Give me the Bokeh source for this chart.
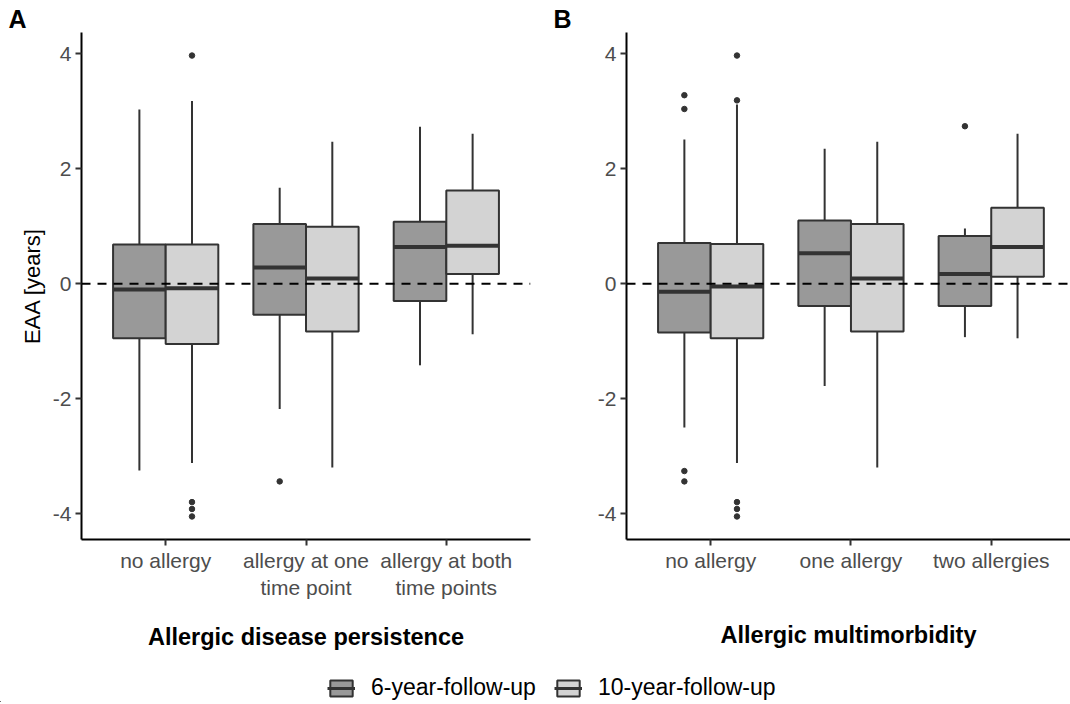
from bokeh.plotting import figure
from bokeh.models import (ColumnDataSource, FixedTicker, Range1d, Span,
                          Legend, LegendItem)
from bokeh.layouts import column, row
from bokeh.transform import dodge
from bokeh.embed import file_html
from bokeh.resources import INLINE

# ---------------- data ----------------
series = ["6-year-follow-up", "10-year-follow-up"]

cats_A = ["no allergy", "allergy at one\ntime point", "allergy at both\ntime points"]
A6_lower = [-3.25, -2.18, -1.42]
A6_q1 = [-0.95, -0.54, -0.30]
A6_median = [-0.10, 0.28, 0.64]
A6_q3 = [0.68, 1.04, 1.08]
A6_upper = [3.03, 1.67, 2.73]
A6_out_cat = [2]
A6_out_val = [-3.44]

A10_lower = [-3.12, -3.20, -0.88]
A10_q1 = [-1.05, -0.83, 0.17]
A10_median = [-0.08, 0.09, 0.66]
A10_q3 = [0.68, 0.99, 1.62]
A10_upper = [3.18, 2.47, 2.61]
A10_out_cat = [1, 1, 1, 1]
A10_out_val = [3.97, -3.80, -3.92, -4.05]

cats_B = ["no allergy", "one allergy", "two allergies"]
B6_lower = [-2.50, -1.78, -0.93]
B6_q1 = [-0.85, -0.39, -0.39]
B6_median = [-0.14, 0.53, 0.17]
B6_q3 = [0.71, 1.10, 0.83]
B6_upper = [2.51, 2.35, 0.96]
B6_out_cat = [1, 1, 1, 1, 3]
B6_out_val = [3.28, 3.04, -3.26, -3.44, 2.74]

B10_lower = [-3.12, -3.20, -0.95]
B10_q1 = [-0.95, -0.83, 0.12]
B10_median = [-0.05, 0.09, 0.64]
B10_q3 = [0.69, 1.04, 1.32]
B10_upper = [3.12, 2.47, 2.61]
B10_out_cat = [1, 1, 1, 1, 1]
B10_out_val = [3.97, 3.19, -3.80, -3.92, -4.05]

y_ticks = [-4, -2, 0, 2, 4]

# ---------------- style ----------------
FONT = "Liberation Sans"
FILLS = ["#999999", "#D3D3D3"]
EDGE = "#333333"
BOX_W = 0.375
OFFS = [-BOX_W / 2, BOX_W / 2]

box_sources = []


def make_panel(cats, stats, outs, xlabel, ylabel, tag, width, left, right,
               x_end, title_standoff):
    p = figure(width=width, height=660, output_backend="svg", toolbar_location=None,
               x_range=Range1d(0.4, x_end), y_range=Range1d(-4.451, 4.371),
               min_border_left=left, min_border_right=right,
               min_border_top=32, min_border_bottom=121)
    p.xgrid.visible = False
    p.ygrid.visible = False
    p.outline_line_color = None
    xs = list(range(1, len(cats) + 1))
    srcs = []
    for (lower, q1, med, q3, upper), (oc, ov), off, fill in zip(stats, outs, OFFS, FILLS):
        src = ColumnDataSource(dict(x=xs, lower=lower, q1=q1, med=med, q3=q3, upper=upper))
        srcs.append(src)
        p.segment(x0=dodge("x", off), x1=dodge("x", off), y0="lower", y1="upper",
                  source=src, line_color=EDGE, line_width=2)
        p.vbar(x=dodge("x", off), width=BOX_W, bottom="q1", top="q3", source=src,
               fill_color=fill, line_color=EDGE, line_width=2)
        p.segment(x0=dodge("x", off - BOX_W / 2), x1=dodge("x", off + BOX_W / 2),
                  y0="med", y1="med", source=src, line_color=EDGE, line_width=4)
        osrc = ColumnDataSource(dict(x=oc, y=ov))
        p.scatter(x=dodge("x", off), y="y", source=osrc, size=5.5,
                  fill_color=EDGE, line_color=EDGE)
    box_sources.append(srcs)
    p.add_layout(Span(location=0, dimension="width", line_color="black",
                      line_width=2, line_dash="9 7"))

    p.xaxis.ticker = FixedTicker(ticks=xs)
    p.xaxis.major_label_overrides = {x: c for x, c in zip(xs, cats)}
    p.yaxis.ticker = FixedTicker(ticks=y_ticks)
    p.yaxis.major_label_overrides = {t: str(t) for t in y_ticks}
    for ax in (p.xaxis, p.yaxis):
        ax.axis_line_color = "black"
        ax.axis_line_width = 2
        ax.major_tick_line_color = EDGE
        ax.major_tick_line_width = 2
        ax.major_tick_out = 6
        ax.major_tick_in = 0
        ax.minor_tick_line_color = None
        ax.major_label_text_font = FONT
        ax.major_label_text_font_size = "21px"
        ax.major_label_text_color = "#4D4D4D"
        ax.major_label_standoff = 4
        ax.axis_label_text_font = FONT
        ax.axis_label_text_color = "black"
    p.xaxis.major_label_standoff = 3
    p.xaxis.major_label_text_align = "center"
    p.xaxis.axis_label = xlabel
    p.xaxis.axis_label_text_font_size = "23.5px"
    p.xaxis.axis_label_text_font_style = "bold"
    p.xaxis.axis_label_standoff = title_standoff
    if ylabel:
        p.yaxis.axis_label = ylabel
        p.yaxis.axis_label_text_font_size = "22px"
        p.yaxis.axis_label_text_font_style = "normal"
        p.yaxis.axis_label_standoff = 5
    p.title.text = tag
    p.title.align = "left"
    p.title.offset = -73
    p.title.standoff = 0
    p.title.text_font = FONT
    p.title.text_font_size = "25px"
    p.title.text_font_style = "bold"
    p.title.text_color = "black"
    return p


pA = make_panel(cats_A,
                [(A6_lower, A6_q1, A6_median, A6_q3, A6_upper),
                 (A10_lower, A10_q1, A10_median, A10_q3, A10_upper)],
                [(A6_out_cat, A6_out_val), (A10_out_cat, A10_out_val)],
                "Allergic disease persistence", "EAA [years]", "A",
                width=546, left=81, right=16, x_end=3.6, title_standoff=22)
pB = make_panel(cats_B,
                [(B6_lower, B6_q1, B6_median, B6_q3, B6_upper),
                 (B10_lower, B10_q1, B10_median, B10_q3, B10_upper)],
                [(B6_out_cat, B6_out_val), (B10_out_cat, B10_out_val)],
                "Allergic multimorbidity", None, "B",
                width=524, left=80, right=0, x_end=3.565, title_standoff=47)

# ---------------- legend ----------------
# legend figure looks at an empty part of the x axis, so its renderers only feed the keys
pL = figure(width=1070, height=42, output_backend="svg", toolbar_location=None,
            x_range=Range1d(100, 101), y_range=Range1d(100, 101),
            min_border_left=0, min_border_right=0, min_border_top=0, min_border_bottom=0)
pL.axis.visible = False
pL.grid.visible = False
pL.outline_line_color = None
items = []
for name, fill, src in zip(series, FILLS, box_sources[0]):
    rb = pL.vbar(x="x", width=BOX_W, bottom="q1", top="q3", source=src,
                 fill_color=fill, line_color=EDGE, line_width=2)
    rm = pL.segment(x0="x", x1="x", y0="med", y1="med", source=src,
                    line_color=EDGE, line_width=3)
    items.append(LegendItem(label=name, renderers=[rb, rm]))
leg = Legend(items=items, orientation="horizontal", location=(327, 1),
             glyph_width=28, glyph_height=20, label_standoff=16, spacing=18,
             padding=0, margin=0, border_line_color=None, background_fill_alpha=0,
             label_text_font=FONT, label_text_font_size="23px",
             label_text_color="black", label_text_baseline="middle")
pL.add_layout(leg, "center")

layout = column(row(pA, pB), pL)
open("out.html", "w").write(file_html(layout, INLINE))
